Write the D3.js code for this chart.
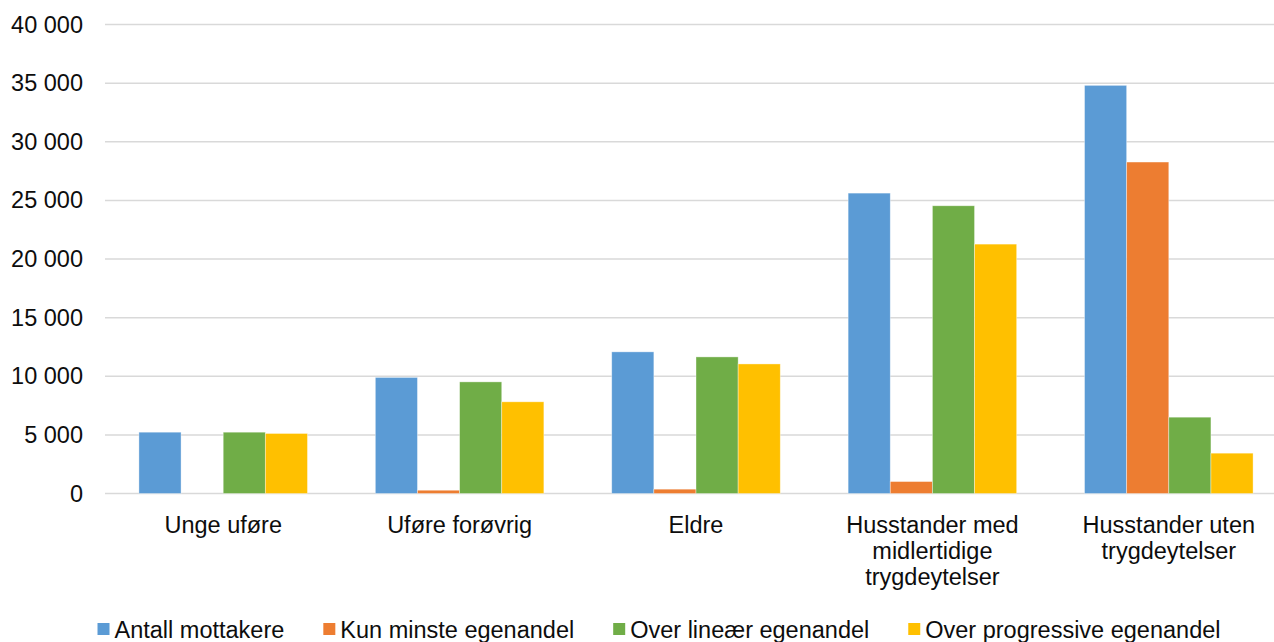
<!DOCTYPE html>
<html><head><meta charset="utf-8">
<script src="https://cdn.jsdelivr.net/npm/d3@7"></script>
<style>
html,body{margin:0;padding:0;background:#fff;}
svg text{font-family:"Liberation Sans",Arial,sans-serif;fill:#0d0d0d;}
</style></head>
<body><svg id="chart" width="1274" height="642"></svg>
<script>
const categories = ["Unge uføre","Uføre forøvrig","Eldre","Husstander med midlertidige trygdeytelser","Husstander uten trygdeytelser"];
const seriesNames = ["Antall mottakere","Kun minste egenandel","Over lineær egenandel","Over progressive egenandel"];
const antallMottakere = [5230, 9900, 12080, 25620, 34810];
const kunMinsteEgenandel = [0, 280, 370, 1020, 28270];
const overLineaerEgenandel = [5230, 9520, 11650, 24540, 6510];
const overProgressiveEgenandel = [5120, 7820, 11050, 21270, 3440];
const yTicks = [0, 5000, 10000, 15000, 20000, 25000, 30000, 35000, 40000];
const colors = ["#5B9BD5","#ED7D31","#70AD47","#FFC000"];

const FS = 23.5;
const seriesValues = [antallMottakere, kunMinsteEgenandel, overLineaerEgenandel, overProgressiveEgenandel];
const svg = d3.select("#chart");

const y = d3.scaleLinear().domain([0, 40000]).range([493.5, 24.5]);
const x0 = d3.scaleBand().domain(categories).range([105, 1287]).paddingInner(0.287).paddingOuter(0.1435);
const x1 = d3.scaleBand().domain(seriesNames).range([0, x0.bandwidth()]);
const fmt = v => d3.format(",")(v).replace(/,/g, " ");

// gridlines
svg.append("g").selectAll("line").data(yTicks).join("line")
  .attr("x1", 105).attr("x2", 1287)
  .attr("y1", d => y(d)).attr("y2", d => y(d))
  .attr("stroke", "#d9d9d9").attr("stroke-width", 1.5);

// y axis labels
const yAxis = d3.axisLeft(y).tickValues(yTicks).tickFormat(fmt).tickSize(0).tickPadding(0);
const ya = svg.append("g").attr("transform", "translate(83,0)").call(yAxis);
ya.select(".domain").remove();
ya.selectAll("text").attr("font-size", FS).attr("fill", "#0d0d0d")
  .style("font-family", '"Liberation Sans",Arial,sans-serif');

// bars
const groups = svg.append("g").selectAll("g").data(categories).join("g")
  .attr("transform", d => `translate(${x0(d)},0)`);
groups.selectAll("rect").data((c, i) => seriesNames.map((s, j) => ({s, v: seriesValues[j][i], j})))
  .join("rect")
  .attr("x", d => x1(d.s)).attr("width", x1.bandwidth())
  .attr("y", d => y(d.v)).attr("height", d => y(0) - y(d.v))
  .attr("fill", d => colors[d.j])
  .attr("stroke", "#fff").attr("stroke-opacity", 0.5).attr("stroke-width", 0.75);

// x axis labels
const xAxis = d3.axisBottom(x0).tickSize(0).tickPadding(0);
const xa = svg.append("g").attr("transform", "translate(0,515)").call(xAxis);
xa.select(".domain").remove();
xa.selectAll("text").attr("font-size", FS).attr("fill", "#0d0d0d")
  .style("font-family", '"Liberation Sans",Arial,sans-serif')
  .each(function(d) {
    const t = d3.select(this);
    const words = d.split(" ");
    t.text(null);
    let lines = [], line = [];
    const tmp = t.append("tspan");
    for (const w of words) {
      line.push(w);
      tmp.text(line.join(" "));
      if (tmp.node().getComputedTextLength() > 225 && line.length > 1) {
        line.pop(); lines.push(line.join(" ")); line = [w];
      }
    }
    lines.push(line.join(" "));
    tmp.remove();
    t.attr("y", 0).attr("dy", null);
    lines.forEach((l, i) => {
      t.append("tspan").attr("x", 0).attr("y", 18 + i * 26).text(l);
    });
  });

// legend
const GAP = 39;
const lg = svg.append("g");
const items = lg.selectAll("g").data(seriesNames).join("g");
items.append("rect").attr("width", 12).attr("height", 12).attr("y", 623).attr("fill", (d, i) => colors[i]);
items.append("text").attr("x", 17).attr("y", 638).attr("font-size", FS).text(d => d);
let cx = 0;
const pos = [];
items.each(function() {
  pos.push(cx);
  const w = d3.select(this).select("text").node().getComputedTextLength();
  cx += 17 + w + GAP;
});
const total = cx - GAP;
const start = 659 - total / 2;
items.attr("transform", (d, i) => `translate(${start + pos[i]},0)`);
</script>
</body></html>
